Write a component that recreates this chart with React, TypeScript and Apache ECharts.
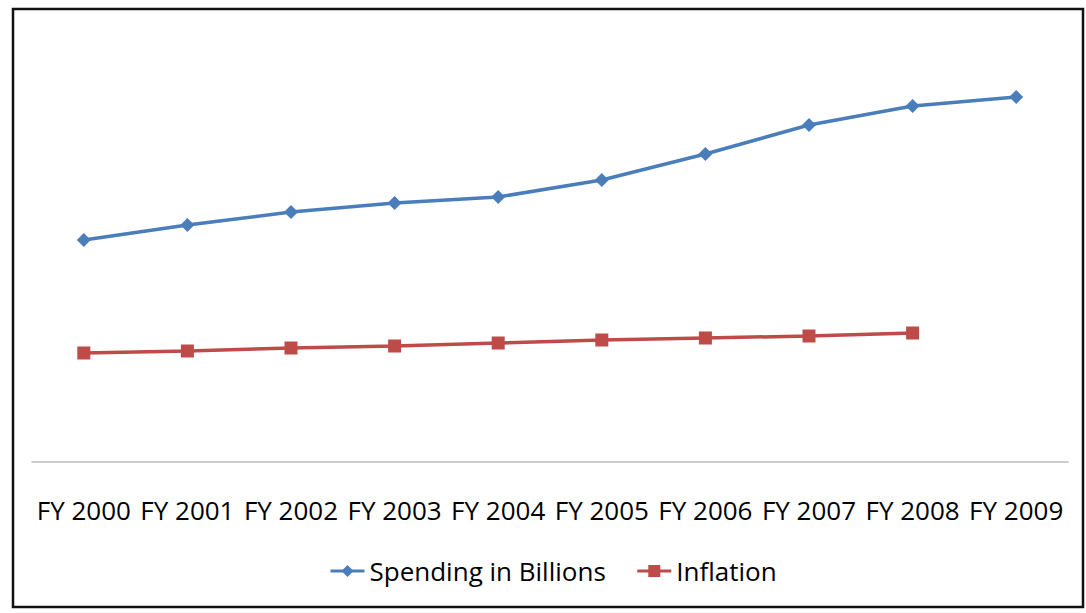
import React, { useEffect, useRef } from "react";
import * as echarts from "echarts";

const categories = ["FY 2000", "FY 2001", "FY 2002", "FY 2003", "FY 2004", "FY 2005", "FY 2006", "FY 2007", "FY 2008", "FY 2009"];
const spending = [222, 237, 250, 259, 265, 282, 308, 337, 356, 365];
const inflation = [109, 111, 114, 116, 119, 122, 124, 126, 129];

export default function App() {
  const ref = useRef<HTMLDivElement>(null);
  useEffect(() => {
    if (!ref.current) return;
    const chart = echarts.init(ref.current, undefined, { renderer: "svg" });
    const font = "'Open Sans', 'Noto Sans', sans-serif";
    chart.setOption({
      animation: false,
      backgroundColor: "#ffffff",
      textStyle: { fontFamily: font },
      graphic: [
        {
          type: "rect",
          shape: { x: 13, y: 9, width: 1070, height: 598 },
          style: { fill: "none", stroke: "#111", lineWidth: 2.5 },
          silent: true,
          z: 100,
        },
      ],
      grid: { left: 32, right: 18, top: 12, bottom: 151, containLabel: false },
      legend: {
        bottom: 24,
        left: 324,
        itemWidth: 34,
        itemHeight: 15,
        itemGap: 30,
        textStyle: { fontSize: 26, color: "#000", fontFamily: font },
        lineStyle: { width: 3 },
        data: ["Spending in Billions", "Inflation"],
      },
      xAxis: {
        type: "category",
        data: categories,
        boundaryGap: true,
        axisLine: { show: true, lineStyle: { color: "#bdbdbd", width: 1.5 } },
        axisTick: { show: false },
        axisLabel: { color: "#000", fontSize: 26, margin: 35, interval: 0, fontFamily: font },
        splitLine: { show: false },
      },
      yAxis: {
        type: "value",
        min: 0,
        max: 450,
        show: false,
        splitLine: { show: false },
      },
      series: [
        {
          name: "Spending in Billions",
          type: "line",
          data: spending,
          symbol: "diamond",
          symbolSize: 14,
          lineStyle: { color: "#4a7ebb", width: 3.5 },
          itemStyle: { color: "#4a7ebb" },
        },
        {
          name: "Inflation",
          type: "line",
          data: inflation,
          symbol: "rect",
          symbolSize: 13,
          lineStyle: { color: "#be4b48", width: 3.5 },
          itemStyle: { color: "#be4b48" },
        },
      ],
    });
    return () => chart.dispose();
  }, []);
  return (
    <div
      ref={ref}
      style={{ position: "fixed", left: 0, top: 0, width: 1086, height: 613 }}
    />
  );
}
